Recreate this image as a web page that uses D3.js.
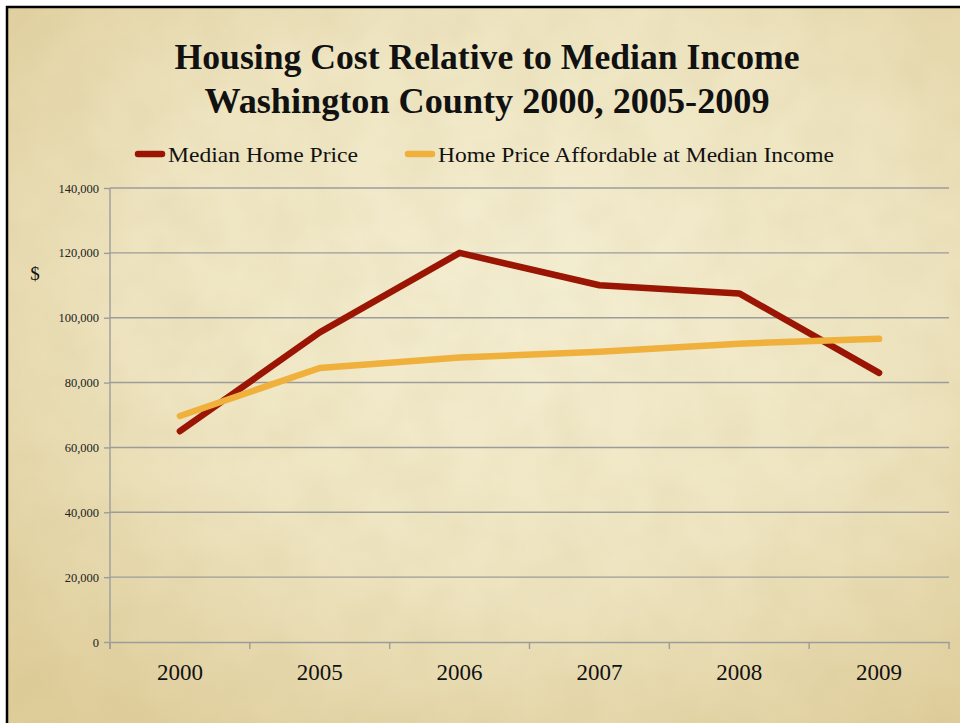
<!DOCTYPE html>
<html><head><meta charset="utf-8">
<script src="https://cdn.jsdelivr.net/npm/d3@7"></script>
<style>
html,body{margin:0;padding:0;background:#fff;}
svg{display:block;}
</style></head>
<body>
<script>
const categories = ["2000","2005","2006","2007","2008","2009"];
const medianHomePrice = [65000, 95500, 120000, 110000, 107500, 83000];
const affordablePrice = [69700, 84500, 87700, 89500, 92000, 93500];
const yTicks = [0,20000,40000,60000,80000,100000,120000,140000];
const seriesNames = ["Median Home Price","Home Price Affordable at Median Income"];
const titleLines = ["Housing Cost Relative to Median Income","Washington County 2000, 2005-2009"];
const seriesColors = ["#9a1503","#f0b03c"];

const W = 960, H = 723;
const svg = d3.select("body").append("svg").attr("width", W).attr("height", H);
const defs = svg.append("defs");
const rg = defs.append("radialGradient").attr("id","bg").attr("cx","55%").attr("cy","40%").attr("r","75%");
rg.append("stop").attr("offset","0%").attr("stop-color","#f4eed2");
rg.append("stop").attr("offset","55%").attr("stop-color","#eee4c0");
rg.append("stop").attr("offset","100%").attr("stop-color","#dfcd9a");
const f = defs.append("filter").attr("id","tex").attr("x",0).attr("y",0).attr("width","100%").attr("height","100%");
f.append("feTurbulence").attr("type","fractalNoise").attr("baseFrequency","0.02").attr("numOctaves",3).attr("seed",4).attr("result","n");
f.append("feColorMatrix").attr("in","n").attr("type","matrix")
  .attr("values","0 0 0 0 0.55  0 0 0 0 0.45  0 0 0 0 0.2  0 0 0 -1.1 0.75").attr("result","c");
f.append("feComposite").attr("in","c").attr("in2","SourceGraphic").attr("operator","in");

svg.append("rect").attr("x",0).attr("y",0).attr("width",W).attr("height",H).attr("fill","#fff");
svg.append("rect").attr("x",7).attr("y",7).attr("width",W-7).attr("height",H-7).attr("fill","url(#bg)");
svg.append("rect").attr("x",7).attr("y",7).attr("width",W-7).attr("height",H-7).attr("fill","#000").attr("filter","url(#tex)").attr("opacity",0.18);
svg.append("line").attr("x1",6).attr("y1",7).attr("x2",W).attr("y2",7).attr("stroke","#000").attr("stroke-width",2.5);
svg.append("line").attr("x1",7).attr("y1",6).attr("x2",7).attr("y2",H).attr("stroke","#000").attr("stroke-width",2.5);

const serif = "'Liberation Serif','DejaVu Serif',serif";

// Title
const titleW = [625, 565];
titleLines.forEach((t,i)=>{
  svg.append("text").attr("x",487).attr("y",69+i*44).attr("text-anchor","middle").attr("font-family",serif)
    .attr("font-weight","bold").attr("font-size",35).attr("fill","#111")
    .attr("textLength",titleW[i]).attr("lengthAdjust","spacingAndGlyphs").text(t);
});

const x = d3.scaleBand().domain(categories).range([110, 949]);
const y = d3.scaleLinear().domain([0,140000]).range([642, 188]);

// gridlines
svg.append("g").selectAll("line").data(yTicks.filter(d=>d>0)).join("line")
  .attr("x1",110).attr("x2",949).attr("y1",d=>y(d)).attr("y2",d=>y(d))
  .attr("stroke","#9c9c9c").attr("stroke-width",1.4);

// y axis
const yAxis = svg.append("g").attr("transform","translate(110,0)")
  .call(d3.axisLeft(y).tickValues(yTicks).tickSize(6).tickPadding(5).tickFormat(d3.format(",")));
yAxis.select(".domain").remove();
yAxis.selectAll(".tick line").attr("stroke","#9c9c9c").attr("stroke-width",1.4);
yAxis.selectAll(".tick text").attr("font-family",serif).attr("font-size",12.5).attr("fill","#222");
svg.append("line").attr("x1",110).attr("x2",110).attr("y1",188).attr("y2",649).attr("stroke","#9c9c9c").attr("stroke-width",1.4);

// x axis
const xAxis = svg.append("g").attr("transform","translate(0,642)")
  .call(d3.axisBottom(x).tickSize(0).tickPadding(22));
xAxis.select(".domain").attr("stroke","#9c9c9c").attr("stroke-width",1.4);
xAxis.selectAll(".tick text").attr("font-family",serif).attr("font-size",23).attr("fill","#111");
const bounds = categories.map(c=>x(c)).concat([x(categories[categories.length-1])+x.bandwidth()]);
svg.append("g").selectAll("line").data(bounds).join("line")
  .attr("x1",d=>d).attr("x2",d=>d).attr("y1",642).attr("y2",649)
  .attr("stroke","#9c9c9c").attr("stroke-width",1.4);

// $ label
svg.append("text").attr("x",35).attr("y",280).attr("text-anchor","middle").attr("font-family",serif)
  .attr("font-size",19).attr("fill","#111").text("$");

// lines
const line = d3.line().x((d,i)=>x(categories[i])+x.bandwidth()/2).y(d=>y(d));
[medianHomePrice, affordablePrice].forEach((s,k)=>{
  svg.append("path").datum(s).attr("d",line).attr("fill","none")
    .attr("stroke",seriesColors[k]).attr("stroke-width",6.5)
    .attr("stroke-linecap","round").attr("stroke-linejoin","round");
});
// legend
const legX = [135, 405];
const legW = [190, 396];
seriesNames.forEach((n,k)=>{
  svg.append("line").attr("x1",legX[k]+3).attr("x2",legX[k]+27).attr("y1",154).attr("y2",154)
    .attr("stroke",seriesColors[k]).attr("stroke-width",6.5).attr("stroke-linecap","round");
  svg.append("text").attr("x",legX[k]+33).attr("y",162).attr("font-family",serif)
    .attr("font-size",21).attr("fill","#111")
    .attr("textLength",legW[k]).attr("lengthAdjust","spacingAndGlyphs").text(n);
});
</script>
</body></html>
